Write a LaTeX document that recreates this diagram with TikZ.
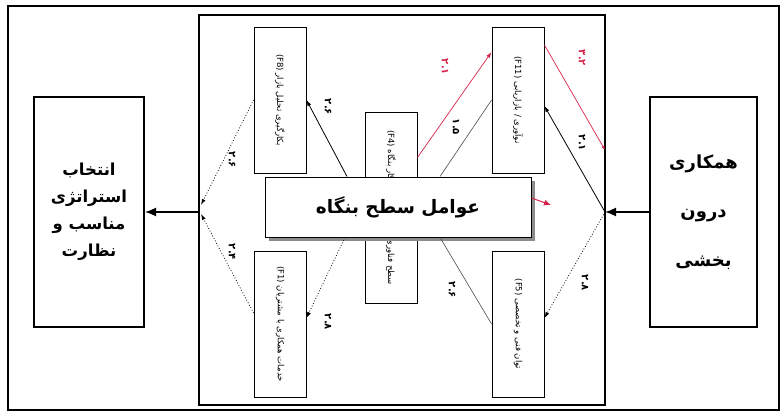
\documentclass[tikz,border=0pt]{standalone}
\usepackage{fontspec}
\usepackage{graphicx}
\usetikzlibrary{arrows.meta,shadows,calc}
\TeXXeTstate=1
\newfontfamily\fa[Script=Arabic]{DejaVu Sans}
\definecolor{redl}{RGB}{215,35,75}
\begin{document}
\begin{tikzpicture}[x=1pt,y=-1pt,
  box/.style={draw, line width=0.9pt, fill=white, inner sep=0pt},
  vbox/.style={box, minimum width=52pt, minimum height=146pt, font=\fa\fontsize{8.5}{10}\selectfont},
  bigbox/.style={draw, line width=2pt, fill=white, inner sep=0pt, minimum width=110pt, minimum height=230pt, align=center},
  num/.style={font=\fa\bfseries\fontsize{10}{11}\selectfont, rotate=-90, inner sep=1pt},
  arr/.style={-{Latex[length=6pt,width=4pt]}, line width=0.8pt},
  bigarr/.style={-{Latex[length=11pt,width=9pt]}, line width=1.6pt},
  dotl/.style={dotted, line width=0.8pt},
  thinl/.style={line width=0.6pt, black!70},
  redline/.style={line width=0.7pt, redl}]
\useasboundingbox (0,0) rectangle (784,414);
% outer frame
\draw[line width=1.4pt] (8,6) rectangle (779,410);
% middle frame
\draw[line width=1.1pt] (199,15) rectangle (605,405);
\draw[line width=2.2pt] (199,128) -- (199,277);
% boxes
\node[bigbox, font=\fa\bfseries\fontsize{16.5}{27}\selectfont] (L) at (89,212)
  {\beginR انتخاب\endR\\\beginR استراتژی\endR\\\beginR مناسب و\endR\\\beginR نظارت\endR};
\node[bigbox, minimum width=107pt, font=\fa\bfseries\fontsize{18}{49}\selectfont] (R) at (703.5,212)
  {\beginR همکاری\endR\\\beginR درون\endR\\\beginR بخشی\endR};
\node[vbox] (tl) at (280,100) {\rotatebox{-90}{\beginR بکارگیری تحلیل بازار \beginL(F8)\endL\endR}};
\node[vbox] (bl) at (280,324) {\rotatebox{-90}{\beginR خدمات همکاری با مشتریان \beginL(F1)\endL\endR}};
\node[vbox] (tr) at (518,100) {\rotatebox{-90}{\beginR نوآوری / بازاریابی \beginL(F11)\endL\endR}};
\node[vbox] (br) at (518,324) {\rotatebox{-90}{\beginR توان فنی و تخصصی \beginL(F5)\endL\endR}};
\node[vbox, minimum height=191pt] (c) at (391,207.5) {\rotatebox{-90}{\beginR سطح فناوری و مهارت نیروی کار بنگاه \beginL(F4)\endL\endR}};
\node[box, minimum width=266pt, minimum height=60pt,
  drop shadow={shadow xshift=4pt, shadow yshift=-4pt, fill=black!45, opacity=1},
  font=\fa\bfseries\fontsize{18.5}{20}\selectfont] (W) at (398,207) {\beginR عوامل سطح بنگاه\endR};
% coordinates
\coordinate (lc) at (199,212);
\coordinate (lcu) at (201,205);
\coordinate (lcd) at (201,214);
\coordinate (rc) at (605,212);
\coordinate (rtop) at (605,150);
\coordinate (redtip) at (551,205);
% connectors
\draw[bigarr] (lc) -- (L.east);
\draw[bigarr] (R.west) -- (rc);
\draw[dotl, arr, dotted] (tl.west) -- (lcu);
\draw[dotl, arr, dotted] ([yshift=11pt]bl.west) -- (lcd);
\draw[arr] (W.north -| 347,0) -- (tl.east);
\draw[arr, dotted] (W.south -| 345,0) -- ([yshift=6pt]bl.east);
\draw[redline, -{Latex[length=6pt,width=4pt]}] ([yshift=50pt]c.east) -- ([yshift=48pt]tr.west);
\draw[thinl] (W.north -| 440,0) -- (tr.west);
\draw[thinl] (W.south -| 440,0) -- (br.west);
\draw[redline, -{Latex[length=4pt,width=3pt]}] ([yshift=55pt]tr.east) -- (rtop);
\draw[arr] (rc) -- ([yshift=-6pt]tr.east);
\draw[arr, dotted] (rc) -- ([yshift=6pt]br.east);
\draw[redline, line width=1pt, -{Latex[length=7pt,width=6pt]}] ([yshift=9pt]W.east) -- (redtip);
% labels
\node[num] (n1) at (232,160) {۲.۶};
\node[num] (n2) at (232,252) {۲.۴};
\node[num] (n3) at (328,107) {۲.۶};
\node[num] (n4) at (328,322) {۲.۸};
\node[num, text=redl] (n5) at (445,67) {۲.۱};
\node[num] (n6) at (456,127) {۱.۵};
\node[num, text=redl] (n7) at (582,58) {۳.۲};
\node[num] (n8) at (582,143) {۲.۱};
\node[num] (n9) at (585,283) {۲.۸};
\node[num] (n10) at (452,290) {۲.۶};
\end{tikzpicture}
\end{document}
